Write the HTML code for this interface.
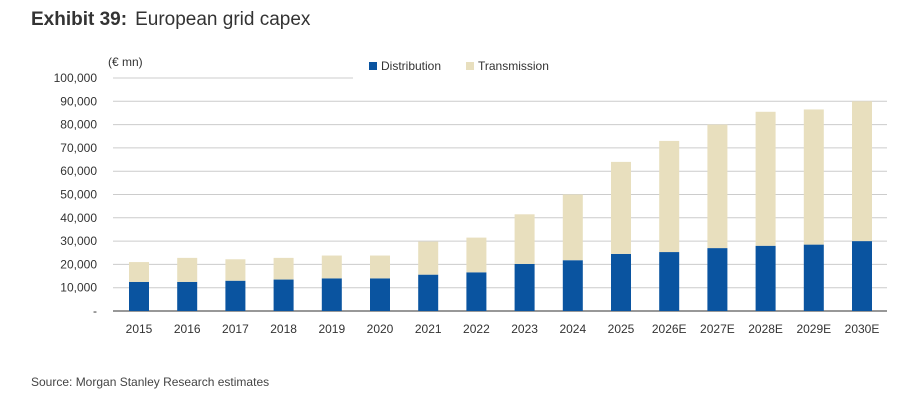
<!DOCTYPE html>
<html><head><meta charset="utf-8"><style>
body{margin:0;background:#fff;width:914px;height:404px;overflow:hidden;font-family:"Liberation Sans",sans-serif}
</style></head><body>
<svg width="914" height="404">
<text x="31" y="25" font-size="19" fill="#333"><tspan font-weight="bold">Exhibit 39:</tspan><tspan dx="8">European grid capex</tspan></text>
<text x="108" y="66" font-size="12" fill="#333">(€ mn)</text>
<g id="grid"></g><g id="bars"></g><g id="xl"></g>
<g>
<rect x="369" y="62" width="8" height="8" fill="#0a54a0"/>
<text x="381" y="70" font-size="12" fill="#333">Distribution</text>
<rect x="466" y="62" width="8" height="8" fill="#e8dfbe"/>
<text x="478" y="70" font-size="12" fill="#333">Transmission</text>
</g>
<text x="31" y="386" font-size="12" fill="#444">Source: Morgan Stanley Research estimates</text>
</svg>
<script>
const categories=["2015","2016","2017","2018","2019","2020","2021","2022","2023","2024","2025","2026E","2027E","2028E","2029E","2030E"];
const distribution=[12500,12500,13000,13500,14000,14000,15600,16600,20200,21800,24500,25300,27000,28000,28500,30000];
const totals=[21000,22800,22200,22800,23800,23800,29800,31500,41500,50000,64000,73000,80000,85500,86500,90000];
const yTicks=[0,10000,20000,30000,40000,50000,60000,70000,80000,90000,100000];
const NS="http://www.w3.org/2000/svg";
const y=v=>311-v*0.00233;
const x=i=>139+i*48.2;
function mk(t,a,p){const e=document.createElementNS(NS,t);for(const k in a)e.setAttribute(k,a[k]);p.appendChild(e);return e;}
const g=document.getElementById('grid'),b=document.getElementById('bars'),xl=document.getElementById('xl');
yTicks.forEach(v=>{
 const l=mk('line',{x1:113,x2:v==100000?353:887,y1:y(v),y2:y(v),stroke:v==0?'#777':'#ccc','stroke-width':v==0?1.5:1},g);
 
 
 const t=mk('text',{x:97,y:y(v)+4,'text-anchor':'end','font-size':12,fill:'#333'},g);
 
 
 t.textContent=v==0?'-':v.toLocaleString('en-US');
});
categories.forEach((c,i)=>{
 const d=distribution[i],tr=totals[i]-d;
 const r1=mk('rect',{x:x(i)-10,width:20,y:y(d),height:y(0)-y(d),fill:'#0a54a0'},b);
 
 
 const r2=mk('rect',{x:x(i)-10,width:20,y:y(d+tr),height:y(d)-y(d+tr),fill:'#e8dfbe'},b);
 
 
 const t=mk('text',{x:x(i),y:333,'text-anchor':'middle','font-size':12,fill:'#333'},xl);
 
 
 t.textContent=c;
});
</script>
</body></html>
